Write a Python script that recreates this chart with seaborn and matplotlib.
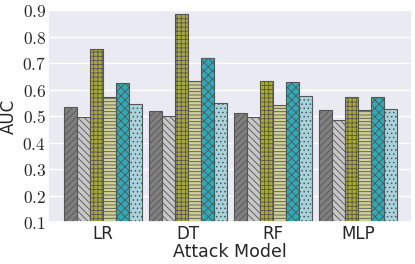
import matplotlib
matplotlib.use('Agg')
import matplotlib.pyplot as plt
import seaborn as sns
import pandas as pd
from matplotlib.ticker import FuncFormatter

models = ['LR', 'DT', 'RF', 'MLP']
variants = ['A', 'B', 'C', 'D', 'E', 'F']
auc = {
    'A': [0.533, 0.518, 0.513, 0.521],
    'B': [0.495, 0.501, 0.495, 0.484],
    'C': [0.752, 0.884, 0.631, 0.571],
    'D': [0.571, 0.631, 0.540, 0.521],
    'E': [0.623, 0.718, 0.627, 0.571],
    'F': [0.544, 0.548, 0.574, 0.525],
}
colors = ['#7f7f7f', '#c7c7c7', '#bcbd22', '#dbdb8d', '#17becf', '#9edae5']
hatches = ['/////', '\\\\\\\\\\', '++++', '-----', 'xxxx', '....']

rows = []
for v in variants:
    for m, a in zip(models, auc[v]):
        rows.append([m, v, a])
df = pd.DataFrame(rows, columns=['model', 'variant', 'auc'])

sns.set_theme(style='darkgrid')
plt.rcParams['mathtext.fontset'] = 'cm'
plt.rcParams['hatch.linewidth'] = 0.6
plt.rcParams['hatch.color'] = '#333333'

fig = plt.figure(figsize=(4.15, 2.64), dpi=100)
ax = fig.add_axes([0.116, 0.159, 0.877, 0.803])
sns.barplot(data=df, x='model', y='auc', hue='variant', order=models,
            hue_order=variants, palette=colors, width=0.92,
            edgecolor='#555555', linewidth=0.8, legend=False, ax=ax)
for cont, h in zip(ax.containers, hatches):
    for bar in cont:
        bar.set_hatch(h)

ax.set_ylim(0.1, 0.9)
ax.set_xlim(-0.65, 3.64)
ax.set_yticks([0.1, 0.2, 0.3, 0.4, 0.5, 0.6, 0.7, 0.8, 0.9])
ax.yaxis.set_major_formatter(FuncFormatter(lambda v, p: r'$%.1f$' % v))
ax.tick_params(axis='both', length=0)
ax.tick_params(axis='y', labelsize=12.5, pad=1.5)
ax.tick_params(axis='x', labelsize=12, pad=2)
ax.set_ylabel('AUC', fontsize=12, labelpad=3)
ax.set_xlabel('Attack Model', fontsize=12.5, labelpad=0)

plt.savefig('out.png', dpi=100)
